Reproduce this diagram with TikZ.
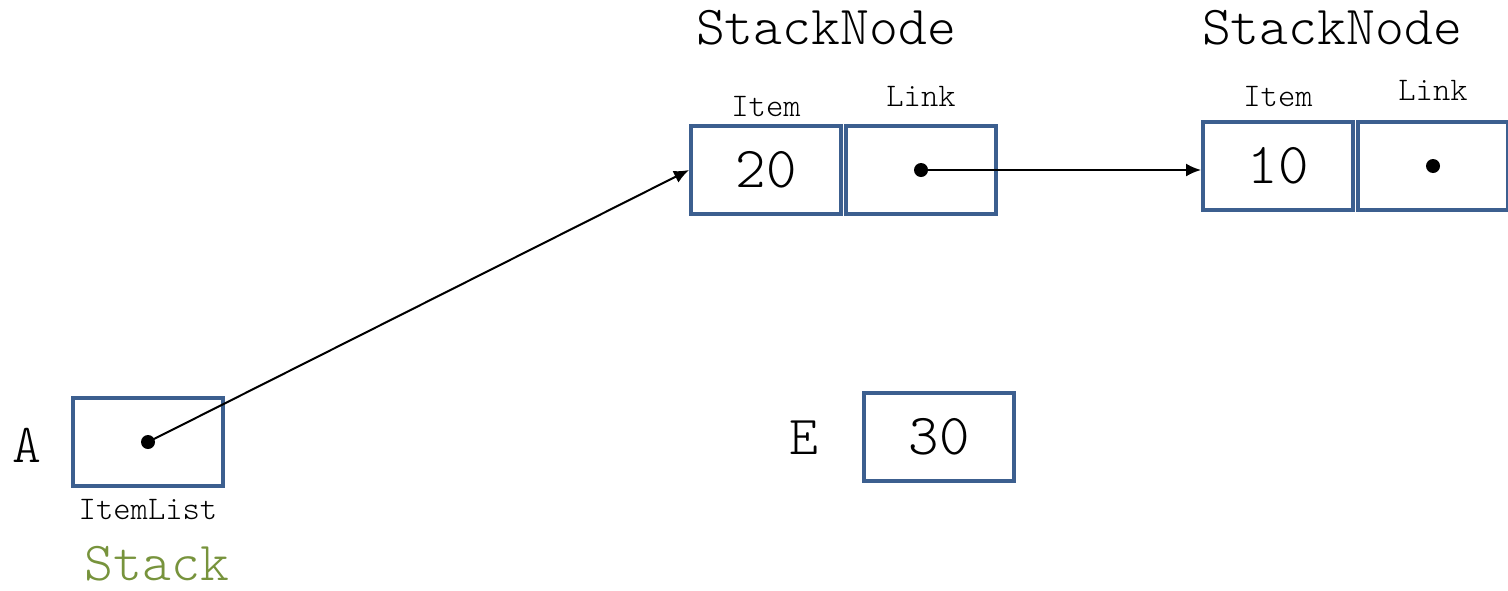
\documentclass[tikz,border=0pt]{standalone}
\usetikzlibrary{arrows.meta,positioning}

\definecolor{boxblue}{RGB}{60,95,143}
\definecolor{stackgreen}{RGB}{119,147,60}

\tikzset{
    cell/.style={draw=boxblue,line width=2pt,minimum width=75pt,minimum height=44pt,
                 inner sep=0pt,font=\ttfamily\fontseries{l}\fontsize{29}{32}\selectfont},
    dot/.style={circle,fill=black,inner sep=0pt,minimum size=7pt},
    small/.style={font=\ttfamily\fontseries{l}\fontsize{16.5}{18}\selectfont},
    big/.style={font=\ttfamily\fontseries{l}\fontsize{27.5}{31}\selectfont}
}

\begin{document}
\begin{tikzpicture}[x=0.5pt,y=-0.5pt,node distance=77.5pt,>={Latex[length=7.5pt,width=6.5pt]},line width=1pt]
    \useasboundingbox (0,0) rectangle (1508,590);

    \node[cell]  (list) at (148,442) [label={[small,label distance=2pt]below:ItemList}] {};
    \node[cell]  (item1) at (766,170) [label={[small,label distance=0pt]above:Item}] {20};
    \node[cell]  (link1) [right of=item1,label={[small,label distance=5pt]above:Link}] {};
    \node[cell]  (item2) at (1278,166) [label={[small,label distance=3pt]above:Item}] {10};
    \node[cell]  (link2) [right of=item2,label={[small,label distance=6pt]above:Link}] {};
    \node[cell]  (elem) at (939,437) {30};

    \node[big]   (a) at (27,445) {A};
    \node[big]   (e) at (804,438) {E};
    \node[big,text=stackgreen,inner sep=0pt,anchor=base]  (stack) at (157,580) {Stack};
    \node[big]   (sn1) at (826,28) {StackNode};
    \node[big]   (sn2) at (1332,28) {StackNode};

    \node[dot]   (d0) at (list.center) {};
    \node[dot]   (d1) at (link1.center) {};
    \node[dot]   (d2) at (link2.center) {};

    \path[->]   (d0.center)  edge  node {} (item1.west)
                (d1.center)  edge  node {} (item2.west |- d1)
                ;
\end{tikzpicture}
\end{document}
